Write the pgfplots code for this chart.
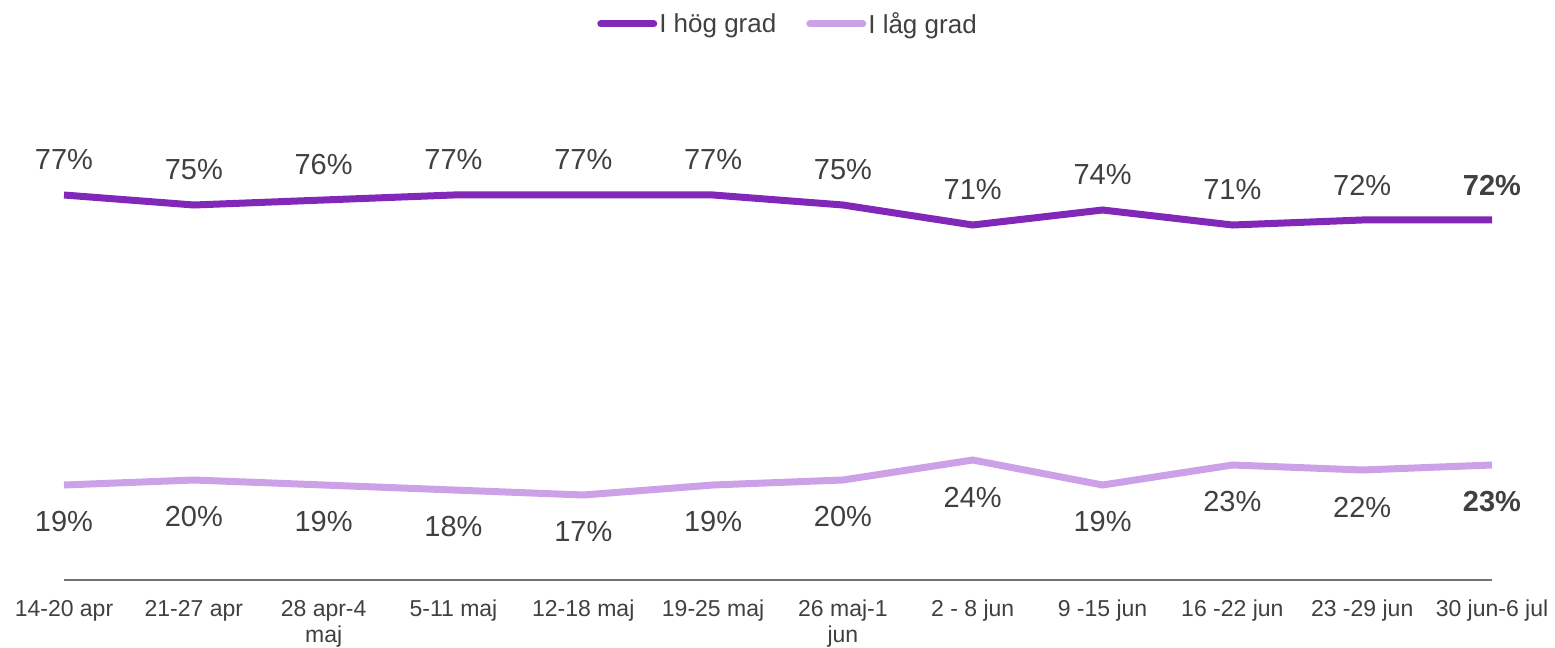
\documentclass[border=0pt]{standalone}
\usepackage{pgfplots}
\pgfplotsset{compat=1.18}
\usepackage{fontspec}
\setmainfont{Liberation Sans}
\definecolor{hog}{RGB}{130,40,184}
\definecolor{lag}{RGB}{204,161,232}
\definecolor{txt}{RGB}{64,64,64}
\definecolor{axl}{RGB}{115,115,115}
\begin{document}
\begin{tikzpicture}
\begin{axis}[
  scale only axis, width=1428bp, height=500bp,
  xmin=0, xmax=11, ymin=0, ymax=100,
  axis y line=none, axis x line*=bottom,
  x axis line style={draw=axl, line width=1.5bp, -},
  xtick={0,...,11}, ytick=\empty, major tick length=0pt,
  xticklabels={14-20 apr,21-27 apr,{28 apr-4\\maj},5-11 maj,12-18 maj,19-25 maj,{26 maj-1\\jun},2 - 8 jun,9 -15 jun,16 -22 jun,23 -29 jun,30 jun-6 jul},
  xticklabel style={font=\fontsize{23bp}{26bp}\selectfont, text=txt, align=center, inner sep=0pt, anchor=north, yshift=-20bp},
  clip=false,
  legend columns=2,
  legend style={draw=none, fill=none, at={(0.507,1.112)}, anchor=center,
    font=\fontsize{26bp}{30bp}\selectfont, text=txt,
    /tikz/every even column/.append style={column sep=28bp}},
  legend image code/.code={\draw[#1, line width=7bp, line cap=round] (0bp,0bp) -- (53bp,0bp);},
]
\addplot[hog, line width=7bp, nodes near coords, point meta=explicit symbolic,
  every node near coord/.append style={font=\fontsize{29bp}{34bp}\selectfont, text=txt, anchor=center, inner sep=0pt, yshift=35bp}]
  coordinates {(0,77) [77\%] (1,75) [75\%] (2,76) [76\%] (3,77) [77\%] (4,77) [77\%] (5,77) [77\%]
               (6,75) [75\%] (7,71) [71\%] (8,74) [74\%] (9,71) [71\%] (10,72) [72\%] (11,72) [\textbf{72\%}]};
\addlegendentry{I hög grad}
\addplot[lag, line width=7bp, nodes near coords, point meta=explicit symbolic,
  every node near coord/.append style={font=\fontsize{29bp}{34bp}\selectfont, text=txt, anchor=center, inner sep=0pt, yshift=-37bp}]
  coordinates {(0,19) [19\%] (1,20) [20\%] (2,19) [19\%] (3,18) [18\%] (4,17) [17\%] (5,19) [19\%]
               (6,20) [20\%] (7,24) [24\%] (8,19) [19\%] (9,23) [23\%] (10,22) [22\%] (11,23) [\textbf{23\%}]};
\addlegendentry{I låg grad}
\coordinate (sw) at (rel axis cs:0,0);
\coordinate (ne) at (rel axis cs:1,1);
\end{axis}
\pgfresetboundingbox
\path ([shift={(-64bp,-67bp)}]sw) rectangle ([shift={(63bp,80bp)}]ne);
\end{tikzpicture}
\end{document}
